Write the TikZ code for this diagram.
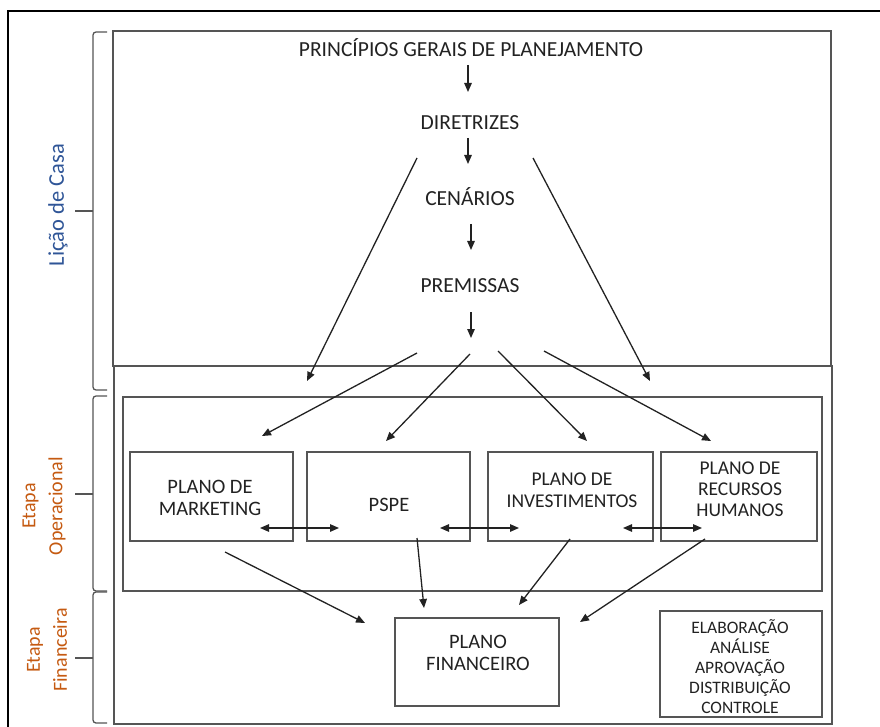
\documentclass[tikz,border=0pt]{standalone}
\usepackage{fontspec}
\setmainfont{Carlito}
\usetikzlibrary{arrows.meta}
\definecolor{ink}{HTML}{222222}
\definecolor{framegray}{HTML}{555555}
\definecolor{lblue}{HTML}{2F5597}
\definecolor{lorange}{HTML}{C55A11}
\begin{document}
\begin{tikzpicture}[x=1pt,y=-1pt,
  lbl/.style={font=\fontsize{21.5}{24}\selectfont, text=ink, inner sep=0pt, align=center},
  boxlbl/.style={font=\fontsize{20.5}{22}\selectfont, text=ink, inner sep=0pt, align=center},
  smalllbl/.style={font=\fontsize{17.5}{20}\selectfont, text=ink, inner sep=0pt, align=center},
  sidelbl/.style={font=\fontsize{20}{27}\selectfont, inner sep=0pt, align=center, rotate=90},
  stagebox/.style={draw=framegray, line width=1.4pt, anchor=north west, inner sep=0pt, outer sep=0pt},
  link/.style={draw=ink, line width=1.3pt, -{Triangle[length=9pt,width=7.5pt]}},
  dlink/.style={draw=ink, line width=1.3pt, {Triangle[length=9pt,width=7.5pt]}-{Triangle[length=9pt,width=7.5pt]}},
  bracket/.style={draw=framegray, line width=1.3pt, rounded corners=3pt}]
\useasboundingbox (0,0) rectangle (880,727);
\clip (0,0) rectangle (880,727);

% outer frame (open to the right and bottom)
\draw[line width=1.5pt, black] (8,740) -- (8,11) -- (890,11);

% stage frames
\node[stagebox, minimum width=718pt, minimum height=335pt] (top) at (113,31) {};
\node[stagebox, minimum width=718pt, minimum height=358pt] (low) at (114,366) {};
\node[stagebox, minimum width=699pt, minimum height=194pt] (oper) at (123,397) {};

% side brackets
\draw[bracket] (107,32) -- (93,32) -- (93,390) -- (107,390);
\draw[bracket] (75,211) -- (93,211);
\draw[bracket] (107,396) -- (93,396) -- (93,591) -- (107,591);
\draw[bracket] (75,494) -- (93,494);
\draw[bracket] (107,592) -- (93,592) -- (93,723) -- (107,723);
\draw[bracket] (75,658) -- (93,658);

\node[sidelbl, text=lblue, font=\fontsize{22.5}{27}\selectfont] (licao) at (58,205) {Lição de Casa};
\node[sidelbl, text=lorange] (eoper) at (44,506) {Etapa\\Operacional};
\node[sidelbl, text=lorange] (efin) at (47,650) {Etapa\\Financeira};

% planning chain
\node[lbl] (pgp) at (471,48) {PRINCÍPIOS GERAIS DE PLANEJAMENTO};
\node[lbl] (dir) at (470,123) {DIRETRIZES};
\node[lbl] (cen) at (470,197) {CENÁRIOS};
\node[lbl] (pre) at (470,286) {PREMISSAS};

\coordinate (a1s) at (468,65);  \coordinate (a1e) at (468,92);
\coordinate (a2s) at (468,138); \coordinate (a2e) at (468,164);
\coordinate (a3s) at (471,224); \coordinate (a3e) at (471,250);
\coordinate (a4s) at (471,312); \coordinate (a4e) at (471,338);
\draw[link] (a1s) -- (a1e);
\draw[link] (a2s) -- (a2e);
\draw[link] (a3s) -- (a3e);
\draw[link] (a4s) -- (a4e);

% long diagonals from the guidelines
\coordinate (dls) at (417,158); \coordinate (dle) at (307,381);
\coordinate (drs) at (533,158); \coordinate (dre) at (650,381);
\draw[link] (dls) -- (dle);
\draw[link] (drs) -- (dre);

% fan from the premises to the plans
\coordinate (f1s) at (417,353); \coordinate (f1e) at (262,436);
\coordinate (f2s) at (470,354); \coordinate (f2e) at (386,441);
\coordinate (f3s) at (498,351); \coordinate (f3e) at (587,441);
\coordinate (f4s) at (544,351); \coordinate (f4e) at (711,441);
\draw[link] (f1s) -- (f1e);
\draw[link] (f2s) -- (f2e);
\draw[link] (f3s) -- (f3e);
\draw[link] (f4s) -- (f4e);

% operational plans
\node[stagebox, minimum width=163pt, minimum height=89pt] (bmkt) at (130,452) {};
\node[stagebox, minimum width=163pt, minimum height=89pt] (bpspe) at (307,452) {};
\node[stagebox, minimum width=165pt, minimum height=89pt] (binv) at (488,452) {};
\node[stagebox, minimum width=156pt, minimum height=89pt] (brh) at (661,452) {};

\node[boxlbl] (tmkt) at (210,498) {PLANO DE\\MARKETING};
\node[boxlbl] (tpspe) at (389,505) {PSPE};
\node[boxlbl, font=\fontsize{19.5}{22}\selectfont] (tinv) at (572,490) {PLANO DE\\INVESTIMENTOS};
\node[boxlbl, font=\fontsize{19.5}{21}\selectfont] (trh) at (740,489) {PLANO DE\\RECURSOS\\HUMANOS};

\coordinate (d1l) at (260,528); \coordinate (d1r) at (339,528);
\coordinate (d2l) at (440,528); \coordinate (d2r) at (519,528);
\coordinate (d3l) at (623,528); \coordinate (d3r) at (702,528);
\draw[dlink] (d1l) -- (d1r);
\draw[dlink] (d2l) -- (d2r);
\draw[dlink] (d3l) -- (d3r);

% financial stage
\node[stagebox, minimum width=164pt, minimum height=88pt] (bfin) at (395,618) {};
\node[boxlbl] (tfin) at (478,653) {PLANO\\FINANCEIRO};

\node[stagebox, minimum width=162pt, minimum height=106pt] (belab) at (660,611) {};
\node[smalllbl] (telab) at (740,667) {ELABORAÇÃO\\ANÁLISE\\APROVAÇÃO\\DISTRIBUIÇÃO\\CONTROLE};

\coordinate (g1s) at (225,552); \coordinate (g1e) at (365,623);
\coordinate (g2s) at (417,538); \coordinate (g2e) at (424,608);
\coordinate (g3s) at (570,539); \coordinate (g3e) at (519,605);
\coordinate (g4s) at (705,539); \coordinate (g4e) at (580,622);
\draw[link] (g1s) -- (g1e);
\draw[link] (g2s) -- (g2e);
\draw[link] (g3s) -- (g3e);
\draw[link] (g4s) -- (g4e);
\end{tikzpicture}
\end{document}
